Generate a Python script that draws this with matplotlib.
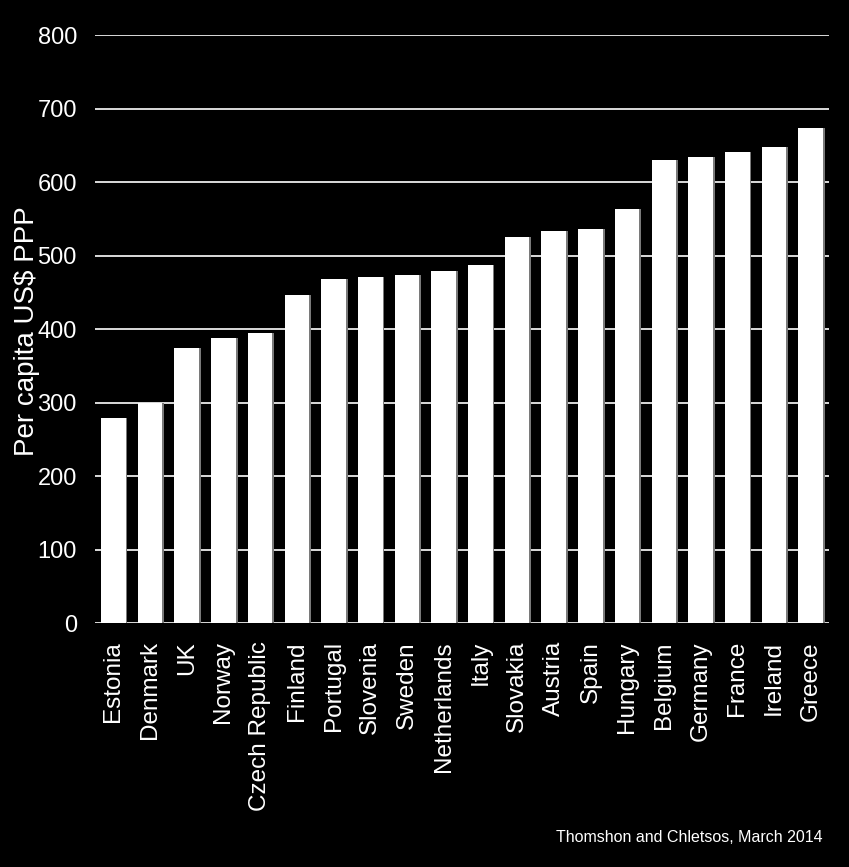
import matplotlib.pyplot as plt
import numpy as np

countries = ['Estonia', 'Denmark', 'UK', 'Norway', 'Czech Republic', 'Finland',
             'Portugal', 'Slovenia', 'Sweden', 'Netherlands', 'Italy', 'Slovakia',
             'Austria', 'Spain', 'Hungary', 'Belgium', 'Germany', 'France',
             'Ireland', 'Greece']
spend = [279, 300, 374, 388, 394, 446, 468, 471, 473, 479, 487, 525,
         533, 536, 563, 630, 634, 641, 648, 673]
yticks = [0, 100, 200, 300, 400, 500, 600, 700, 800]

plain = ['Liberation Sans', 'DejaVu Sans']

fig = plt.figure(figsize=(8.49, 8.67), dpi=100, facecolor='black')
ax = fig.add_axes([0.1119, 0.2814, 0.8645, 0.6782])
ax.set_facecolor('black')

x = np.arange(len(countries))
# faint grey shadow on right side of each bar
ax.bar(x + 0.05, spend, width=0.67, color='#7a7a7a', zorder=2)
ax.bar(x, spend, width=0.67, color='white', zorder=3)

ax.set_xlim(-0.5, len(countries) - 0.5)
ax.set_ylim(0, 800)
ax.set_yticks(yticks)
ax.set_yticklabels([str(v) for v in yticks], family=plain, fontsize=17, color='white')
ax.set_xticks(x)
ax.set_xticklabels(countries, rotation=90, family=plain, fontsize=17.5, color='white')
ax.tick_params(axis='both', length=0)
ax.tick_params(axis='y', pad=13)
ax.tick_params(axis='x', pad=13)
ax.yaxis.grid(True, color='white', linewidth=1.2, zorder=1)
ax.set_axisbelow(True)
for s in ax.spines.values():
    s.set_visible(False)

fig.text(27.5 / 849, 1 - 331 / 867, 'Per capita US$ PPP', rotation=90,
         ha='center', va='center', color='white', family=plain, fontsize=20)
fig.text(823 / 849, 1 - 842 / 867, 'Thomshon and Chletsos, March 2014',
         ha='right', va='baseline', color='white', family=plain, fontsize=11.5)

fig.savefig('out.png', dpi=100, facecolor='black')
